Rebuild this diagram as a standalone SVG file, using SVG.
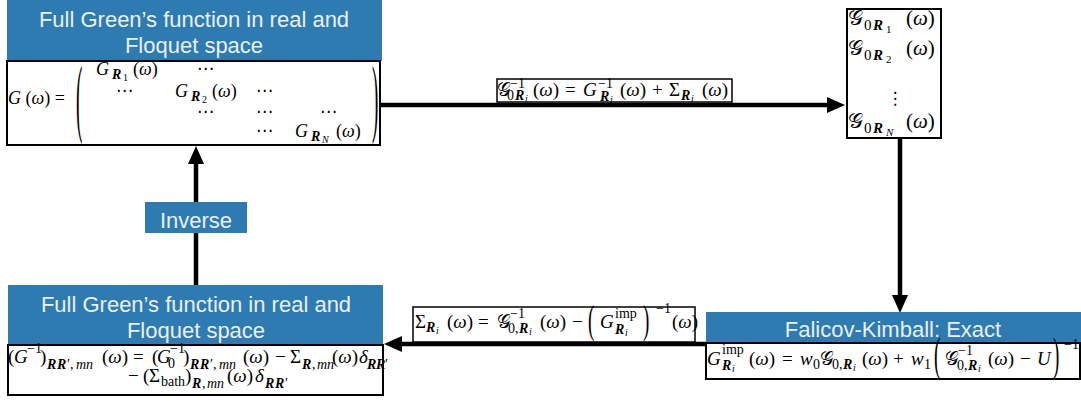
<svg xmlns="http://www.w3.org/2000/svg" width="1081" height="403" viewBox="0 0 1081 403">
<defs>
<style>
.hdr{fill:#2d7bb0}
.box{fill:#fff;stroke:#000;stroke-width:2}
.ht{font-family:"Liberation Sans",Arial,sans-serif;font-size:22px;fill:#eaf0f5;text-anchor:middle}
.m{font-family:"Liberation Serif","DejaVu Serif",serif;font-size:19px;fill:#000}
.mx{font-size:18px}
.mr{font-size:21px}
.i{font-style:italic}
.b{font-style:italic;font-weight:bold}
.s{font-size:14px}
.ss{font-size:10px}
.s2{font-size:15px}
.ss2{font-size:11px}
.dots{font-family:"DejaVu Sans",sans-serif;font-size:17px}
.c{stroke:#000;stroke-width:4.5;fill:none}
.lbl{fill:#fff;stroke:#000;stroke-width:1.5}
</style>
<marker id="ah" markerUnits="userSpaceOnUse" markerWidth="18" markerHeight="16" refX="0" refY="8" orient="auto" overflow="visible"><path d="M0,0 L18,8 L0,16 z" fill="#000"/></marker>
</defs>
<rect width="1081" height="403" fill="#fff"/>

<g id="connectors">
<line class="c" x1="380" y1="105" x2="827" y2="105" marker-end="url(#ah)"/>
<line class="c" x1="900" y1="138" x2="900" y2="295" marker-end="url(#ah)"/>
<line class="c" x1="706" y1="344" x2="402" y2="344" marker-end="url(#ah)"/>
<line class="c" x1="196" y1="285" x2="196" y2="164" marker-end="url(#ah)"/>
</g>

<g id="n-full-top">
<rect class="hdr" x="7" y="0" width="375" height="61"/>
<text class="ht" x="194" y="27">Full Green’s function in real and</text>
<text class="ht" x="194" y="53">Floquet space</text>
<rect class="box" x="7" y="61" width="373" height="84"/>
<text class="m mx" x="8" y="104"><tspan class="i">G</tspan> (<tspan class="i">ω</tspan>) =</text>
<text class="m" font-size="20" transform="translate(76,125.5) scale(1,4.6)">(</text>
<text class="m" font-size="20" transform="translate(372,125.5) scale(1,4.6)">)</text>
<text class="m mx"><tspan class="i" x="96" y="75">G</tspan><tspan class="b s" x="112" y="79">R</tspan><tspan class="ss" x="123" y="81">1</tspan><tspan x="133" y="75">(<tspan class="i">ω</tspan>)</tspan></text>
<text class="m mx"><tspan class="i" x="175" y="97">G</tspan><tspan class="b s" x="191" y="101">R</tspan><tspan class="ss" x="202" y="103">2</tspan><tspan x="212" y="97">(<tspan class="i">ω</tspan>)</tspan></text>
<text class="m mx"><tspan class="i" x="295" y="137">G</tspan><tspan class="b s" x="311" y="141">R</tspan><tspan class="ss i" x="322" y="143">N</tspan><tspan x="336" y="137">(<tspan class="i">ω</tspan>)</tspan></text>
<text class="dots"><tspan x="197" y="74">⋯</tspan><tspan x="116" y="96">⋯</tspan><tspan x="256" y="96">⋯</tspan><tspan x="197" y="117">⋯</tspan><tspan x="256" y="117">⋯</tspan><tspan x="320" y="117">⋯</tspan><tspan x="256" y="136">⋯</tspan></text>
</g>

<g id="n-g0">
<rect class="box" x="847" y="9" width="94" height="129"/>
<text class="m mr"><tspan x="848" y="25">𝒢</tspan><tspan class="s2" x="864" y="30">0</tspan><tspan class="b s2" x="873">R</tspan><tspan class="ss2" x="886" y="33">1</tspan><tspan x="906" y="25">(<tspan class="i">ω</tspan>)</tspan></text>
<text class="m mr"><tspan x="848" y="55">𝒢</tspan><tspan class="s2" x="864" y="60">0</tspan><tspan class="b s2" x="873">R</tspan><tspan class="ss2" x="886" y="63">2</tspan><tspan x="906" y="55">(<tspan class="i">ω</tspan>)</tspan></text>
<text class="dots" x="895" y="104" font-size="36" text-anchor="middle">⋮</text>
<text class="m mr"><tspan x="848" y="128">𝒢</tspan><tspan class="s2" x="864" y="133">0</tspan><tspan class="b s2" x="873">R</tspan><tspan class="ss2 i" x="886" y="136">N</tspan><tspan x="906" y="128">(<tspan class="i">ω</tspan>)</tspan></text>
</g>

<g id="lbl-top">
<rect class="lbl" x="497" y="79" width="235" height="23"/>
<text class="m"><tspan x="497" y="96">𝒢</tspan><tspan class="s" x="510" y="88">−1</tspan><tspan class="s" x="507" y="100">0</tspan><tspan class="b s" x="515">R</tspan><tspan class="ss i" x="525" y="102">i</tspan><tspan x="533" y="96">(<tspan class="i">ω</tspan>)</tspan><tspan x="565">=</tspan><tspan class="i" x="583">G</tspan><tspan class="s" x="598" y="88">−1</tspan><tspan class="b s" x="600" y="101">R</tspan><tspan class="ss i" x="610" y="103">i</tspan><tspan x="620" y="96">(<tspan class="i">ω</tspan>)</tspan><tspan x="652">+</tspan><tspan x="669">Σ</tspan><tspan class="b s" x="681" y="100">R</tspan><tspan class="ss i" x="691" y="102">i</tspan><tspan x="702" y="96">(<tspan class="i">ω</tspan>)</tspan></text>
</g>

<g id="n-fk">
<rect class="hdr" x="706" y="312" width="375" height="31"/>
<text class="ht" x="893" y="337">Falicov-Kimball: Exact</text>
<rect class="box" x="706" y="343" width="374" height="36"/>
<text class="m"><tspan class="i" x="707" y="365">G</tspan><tspan class="s" x="722" y="354">imp</tspan><tspan class="b s" x="722" y="370">R</tspan><tspan class="ss i" x="732" y="372">i</tspan><tspan x="749" y="365">(<tspan class="i">ω</tspan>)</tspan><tspan x="782">=</tspan><tspan class="i" x="800">w</tspan><tspan class="s" x="813" y="369">0</tspan><tspan x="820" y="365">𝒢</tspan><tspan class="s" x="832" y="369">0,</tspan><tspan class="b s" x="843">R</tspan><tspan class="ss i" x="853" y="371">i</tspan><tspan x="862" y="365">(<tspan class="i">ω</tspan>)</tspan><tspan x="893">+</tspan><tspan class="i" x="911">w</tspan><tspan class="s" x="924" y="369">1</tspan><tspan x="945" y="365">𝒢</tspan><tspan class="s" x="958" y="355">−1</tspan><tspan class="s" x="957" y="370">0,</tspan><tspan class="b s" x="968">R</tspan><tspan class="ss i" x="978" y="372">i</tspan><tspan x="988" y="365">(<tspan class="i">ω</tspan>)</tspan><tspan x="1020">−</tspan><tspan class="i" x="1037">U</tspan><tspan class="s" x="1064" y="349">−1</tspan></text>
<text class="m" font-size="16" transform="translate(934,370) scale(1,2.4)">(</text>
<text class="m" font-size="16" transform="translate(1053,370) scale(1,2.4)">)</text>
</g>

<g id="lbl-bottom">
<rect class="lbl" x="413" y="307" width="282" height="35"/>
<text class="m"><tspan x="415" y="328">Σ</tspan><tspan class="b s" x="426" y="332">R</tspan><tspan class="ss i" x="436" y="334">i</tspan><tspan x="447" y="328">(<tspan class="i">ω</tspan>)</tspan><tspan x="478">=</tspan><tspan x="497">𝒢</tspan><tspan class="s" x="510" y="318">−1</tspan><tspan class="s" x="508" y="333">0,</tspan><tspan class="b s" x="519">R</tspan><tspan class="ss i" x="529" y="335">i</tspan><tspan x="540" y="328">(<tspan class="i">ω</tspan>)</tspan><tspan x="572">−</tspan><tspan class="i" x="600">G</tspan><tspan class="s" x="615" y="318">imp</tspan><tspan class="b s" x="615" y="334">R</tspan><tspan class="ss i" x="625" y="336">i</tspan><tspan class="s" x="656" y="313">−1</tspan><tspan x="672" y="328">(<tspan class="i">ω</tspan>)</tspan></text>
<text class="m" font-size="16" transform="translate(588,333) scale(1,2.1)">(</text>
<text class="m" font-size="16" transform="translate(643,333) scale(1,2.1)">)</text>
</g>

<g id="n-full-bottom">
<rect class="hdr" x="8" y="285" width="375" height="60"/>
<text class="ht" x="196" y="312">Full Green’s function in real and</text>
<text class="ht" x="196" y="338">Floquet space</text>
<rect class="box" x="8" y="345" width="375" height="50"/>
<text class="m"><tspan x="8" y="363">(</tspan><tspan class="i" x="14">G</tspan><tspan class="s" x="27" y="353">−1</tspan><tspan x="40" y="363">)</tspan><tspan class="b s" x="47" y="369">R</tspan><tspan class="b s" x="57">R</tspan><tspan class="s" x="67">′,</tspan><tspan class="s i" x="76">mn</tspan><tspan x="102" y="363">(<tspan class="i">ω</tspan>)</tspan><tspan x="133">=</tspan><tspan x="152">(</tspan><tspan class="i" x="157">G</tspan><tspan class="s" x="170" y="353">−1</tspan><tspan class="s" x="168" y="368">0</tspan><tspan x="183" y="363">)</tspan><tspan class="b s" x="190" y="369">R</tspan><tspan class="b s" x="200">R</tspan><tspan class="s" x="210">′,</tspan><tspan class="s i" x="219">mn</tspan><tspan x="243" y="363">(<tspan class="i">ω</tspan>)</tspan><tspan x="275">−</tspan><tspan x="290">Σ</tspan><tspan class="b s" x="302" y="369">R</tspan><tspan class="s" x="312">,</tspan><tspan class="s i" x="317">mn</tspan><tspan x="332" y="363">(<tspan class="i">ω</tspan>)</tspan><tspan class="i" x="359">δ</tspan><tspan class="b s" x="367" y="369">R</tspan><tspan class="b s" x="376">R</tspan><tspan class="s" x="385">′</tspan></text>
<text class="m"><tspan x="128" y="382">−</tspan><tspan x="143">(</tspan><tspan x="149">Σ</tspan><tspan class="s" x="161" y="386">bath</tspan><tspan x="185" y="382">)</tspan><tspan class="b s" x="192" y="388">R</tspan><tspan class="s" x="202">,</tspan><tspan class="s i" x="207">mn</tspan><tspan x="227" y="382">(<tspan class="i">ω</tspan>)</tspan><tspan class="i" x="255">δ</tspan><tspan class="b s" x="265" y="388">R</tspan><tspan class="b s" x="275">R</tspan><tspan class="s" x="285">′</tspan></text>
</g>

<g id="lbl-inverse">
<rect class="hdr" x="145" y="202" width="102" height="31"/>
<text class="ht" x="196" y="228">Inverse</text>
</g>
</svg>
